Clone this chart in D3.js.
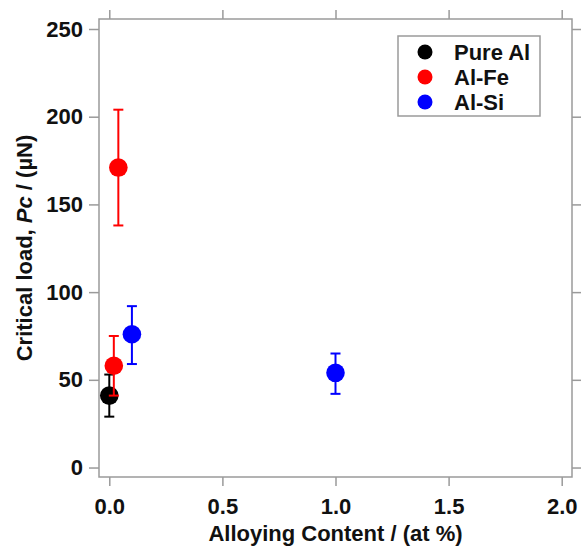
<!DOCTYPE html>
<html>
<head>
<meta charset="utf-8">
<script src="https://cdn.jsdelivr.net/npm/d3@7"></script>
<style>
  body { margin: 0; background: #fff; }
  svg text { font-family: "Liberation Sans", Arial, sans-serif; font-weight: bold; fill: #111; }
</style>
</head>
<body>
<svg id="chart"></svg>
<script>
const width = 584;
const height = 546;
const margin = {top: 19, right: 12, bottom: 69, left: 99};

// data
const seriesNames = ['Pure Al', 'Al-Fe', 'Al-Si'];
const seriesColors = ['#000000', '#ff0000', '#0000ff'];
const pureAlX = [0.0];
const pureAlY = [41];
const pureAlLo = [29];
const pureAlHi = [53];
const alFeX = [0.02, 0.04];
const alFeY = [58, 171];
const alFeLo = [41, 138];
const alFeHi = [75, 204];
const alSiX = [0.1, 1.0];
const alSiY = [76, 54];
const alSiLo = [59, 42];
const alSiHi = [92, 65];
const xTicks = [0, 0.5, 1.0, 1.5, 2.0];
const yTicks = [0, 50, 100, 150, 200, 250];

const seriesData = [
  {name: seriesNames[0], color: seriesColors[0], x: pureAlX, y: pureAlY, lo: pureAlLo, hi: pureAlHi},
  {name: seriesNames[1], color: seriesColors[1], x: alFeX, y: alFeY, lo: alFeLo, hi: alFeHi},
  {name: seriesNames[2], color: seriesColors[2], x: alSiX, y: alSiY, lo: alSiLo, hi: alSiHi}
];

const svg = d3.select('#chart')
  .attr('width', width)
  .attr('height', height);

const x = d3.scaleLinear().domain([-0.0455, 2.0455]).range([margin.left, width - margin.right]);
const y = d3.scaleLinear().domain([-5.4, 255.7]).range([height - margin.bottom, margin.top]);

const axisColor = '#9a9a9a';

// axes (outward ticks, mirrored on top/right)
const xAxis = svg.append('g')
  .attr('transform', `translate(0, ${height - margin.bottom})`)
  .call(d3.axisBottom(x).tickValues(xTicks).tickFormat(d3.format('.1f')).tickSize(9).tickPadding(12));
const xTop = svg.append('g')
  .attr('transform', `translate(0, ${margin.top})`)
  .call(d3.axisTop(x).tickValues(xTicks).tickFormat('').tickSize(9));
const yAxis = svg.append('g')
  .attr('transform', `translate(${margin.left}, 0)`)
  .call(d3.axisLeft(y).tickValues(yTicks).tickSize(10).tickPadding(6));
const yRight = svg.append('g')
  .attr('transform', `translate(${width - margin.right}, 0)`)
  .call(d3.axisRight(y).tickValues(yTicks).tickFormat('').tickSize(9));

[xAxis, xTop, yAxis, yRight].forEach(g => {
  g.select('.domain').remove();
  g.selectAll('.tick line').attr('stroke', axisColor).attr('stroke-width', 1.5);
  g.selectAll('.tick text').style('font-size', '22px').attr('fill', '#111');
});

// frame
svg.append('rect')
  .attr('x', margin.left)
  .attr('y', margin.top)
  .attr('width', width - margin.left - margin.right)
  .attr('height', height - margin.top - margin.bottom)
  .attr('fill', 'none')
  .attr('stroke', axisColor)
  .attr('stroke-width', 1.5);

// axis titles
svg.append('text')
  .attr('x', (margin.left + width - margin.right) / 2)
  .attr('y', 541)
  .attr('text-anchor', 'middle')
  .style('font-size', '22px')
  .text('Alloying Content / (at %)');

const yTitle = svg.append('text')
  .attr('transform', `translate(32, ${(margin.top + height - margin.bottom) / 2}) rotate(-90)`)
  .attr('text-anchor', 'middle')
  .style('font-size', '22px');
yTitle.append('tspan').text('Critical load, ');
yTitle.append('tspan').style('font-style', 'italic').text('Pc');
yTitle.append('tspan').text(' / (\u00b5N)');

// error bars and points
const capHalf = 5;
seriesData.forEach(s => {
  const pts = s.x.map((v, i) => ({x: v, y: s.y[i], lo: s.lo[i], hi: s.hi[i]}));
  const g = svg.append('g').attr('stroke', s.color).attr('fill', s.color);

  g.selectAll('line.bar').data(pts).enter().append('line')
    .attr('class', 'bar')
    .attr('x1', d => x(d.x)).attr('x2', d => x(d.x))
    .attr('y1', d => y(d.lo)).attr('y2', d => y(d.hi))
    .attr('stroke-width', 2);
  g.selectAll('line.capHi').data(pts).enter().append('line')
    .attr('class', 'capHi')
    .attr('x1', d => x(d.x) - capHalf).attr('x2', d => x(d.x) + capHalf)
    .attr('y1', d => y(d.hi)).attr('y2', d => y(d.hi))
    .attr('stroke-width', 2);
  g.selectAll('line.capLo').data(pts).enter().append('line')
    .attr('class', 'capLo')
    .attr('x1', d => x(d.x) - capHalf).attr('x2', d => x(d.x) + capHalf)
    .attr('y1', d => y(d.lo)).attr('y2', d => y(d.lo))
    .attr('stroke-width', 2);
  g.selectAll('circle').data(pts).enter().append('circle')
    .attr('cx', d => x(d.x))
    .attr('cy', d => y(d.y))
    .attr('r', 9.3)
    .attr('stroke', 'none');
});

// legend
const legend = svg.append('g').attr('transform', 'translate(398, 36)');
legend.append('rect')
  .attr('width', 142)
  .attr('height', 80)
  .attr('fill', '#fff')
  .attr('stroke', axisColor)
  .attr('stroke-width', 1.5);
const items = legend.selectAll('g.item').data(seriesData).enter().append('g')
  .attr('class', 'item')
  .attr('transform', (d, i) => `translate(0, ${16 + i * 25})`);
items.append('circle')
  .attr('cx', 27)
  .attr('r', 7.5)
  .attr('fill', d => d.color);
items.append('text')
  .attr('x', 56)
  .attr('y', 8)
  .style('font-size', '22px')
  .text(d => d.name);
</script>
</body>
</html>
